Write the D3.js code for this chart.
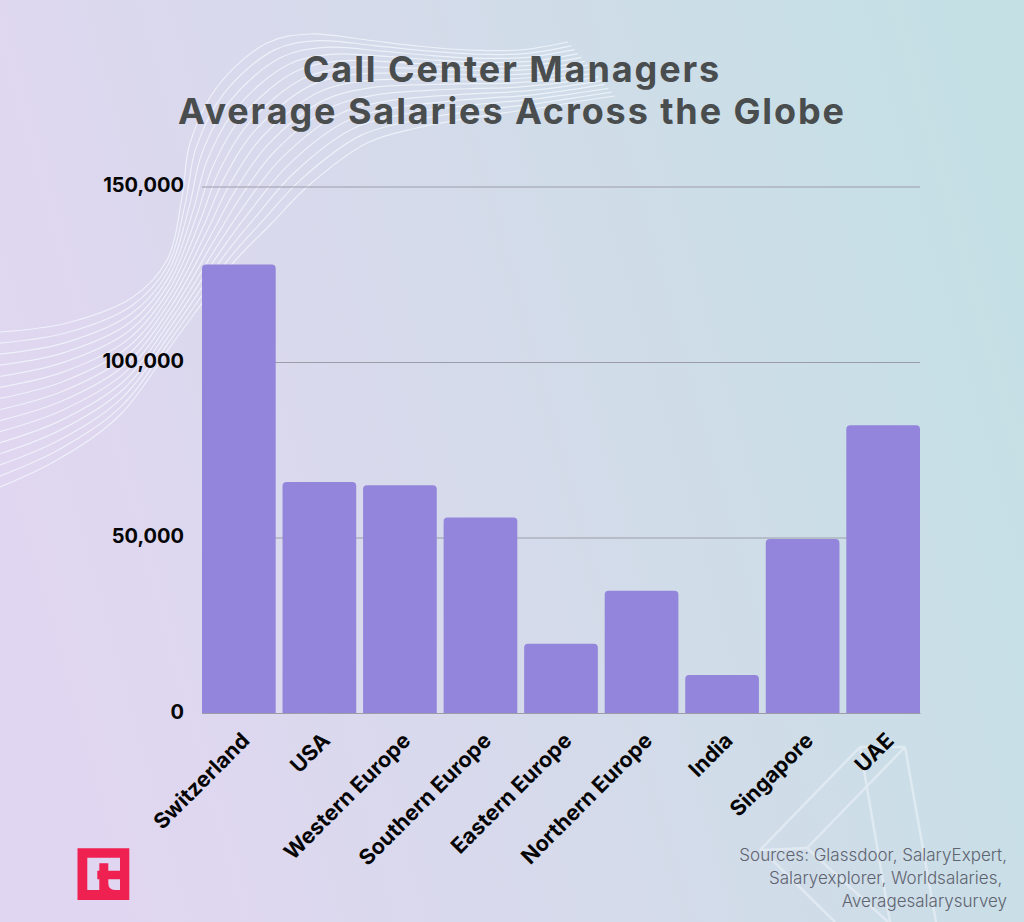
<!DOCTYPE html>
<html><head><meta charset="utf-8">
<script src="https://cdn.jsdelivr.net/npm/d3@7"></script>
<style>
html,body{margin:0;padding:0;background:#d5dcea}
svg{display:block}
text{font-family:Inter,"Open Sans",sans-serif}
</style></head><body><svg id="c" width="1024" height="922"></svg>
<script>
const categories=["Switzerland","USA","Western Europe","Southern Europe","Eastern Europe","Northern Europe","India","Singapore","UAE"];
const salaries=[127800,65800,64900,55700,19700,34800,10800,49600,82000];
const yTicks=[0,50000,100000,150000];
const titleLines=["Call Center Managers","Average Salaries Across the Globe"];
const sourceLines=["Sources: Glassdoor, SalaryExpert,","Salaryexplorer, Worldsalaries, ","Averagesalarysurvey"];
// decorative background artwork
const waveOuter=[[0,332],[67,323],[133,297],[167,260],[182,197],[190,143],[217,87],[267,43],[310,34],[367,40],[417,46],[470,50],[520,50],[568,42]];
const waveInner=[[0,487],[57,460],[120,415],[175,340],[233,263],[270,225],[307,187],[367,143],[417,128],[470,118],[510,112],[540,108],[575,102],[615,96]];
const waveCount=15;
const prismEdges=[[[860,747],[905,747]],[[860,747],[760,850]],[[905,747],[807,848]],[[760,850],[807,848]],[[860,747],[890,922]],[[905,747],[936,922]],[[807,848],[888,922]],[[772,860],[835,922]]];

const svg=d3.select("#c");
const defs=svg.append("defs");
const g=defs.append("linearGradient").attr("id","bg").attr("x1","0").attr("y1","0.55").attr("x2","1").attr("y2","0.3");
g.append("stop").attr("offset","0").attr("stop-color","#e1d6f1");
g.append("stop").attr("offset","0.5").attr("stop-color","#d4dbea");
g.append("stop").attr("offset","1").attr("stop-color","#c4e0e5");
svg.append("rect").attr("width",1024).attr("height",922).attr("fill","url(#bg)");

// waves
const line=d3.line().curve(d3.curveCatmullRom.alpha(0.5));
const wavesG=svg.append("g").attr("fill","none").attr("stroke","#f2f6fc").attr("stroke-width",1.2).attr("opacity",0.85);
d3.range(waveCount).forEach(i=>{
  const t=i/(waveCount-1);
  const pts=waveOuter.map((p,j)=>[p[0]+(waveInner[j][0]-p[0])*t,p[1]+(waveInner[j][1]-p[1])*t]);
  wavesG.append("path").attr("d",line(pts));
});
// prism
svg.append("g").attr("stroke","#e6eef5").attr("stroke-width",2.5).attr("opacity",0.75)
  .selectAll("line").data(prismEdges).join("line")
  .attr("x1",d=>d[0][0]).attr("y1",d=>d[0][1]).attr("x2",d=>d[1][0]).attr("y2",d=>d[1][1]);

// title
svg.append("g").selectAll("text").data(titleLines).join("text")
  .attr("x",512).attr("y",(d,i)=>82+i*42).attr("text-anchor","middle")
  .attr("font-size",36).attr("font-weight",700).attr("fill","#4a4d4e").attr("letter-spacing",1.9).text(d=>d);

const left=202,right=920,top0=186.5,bottom=713;
const x=d3.scaleBand().domain(categories).range([left,right]).paddingInner(0.085).paddingOuter(0);
const y=d3.scaleLinear().domain([0,150000]).range([bottom,top0]);

// y axis + grid
const ya=svg.append("g").attr("transform",`translate(${left},0)`)
  .call(d3.axisLeft(y).tickValues(yTicks).tickSize(-(right-left)).tickPadding(18).tickFormat(d3.format(",")));
ya.select(".domain").remove();
ya.selectAll(".tick line").attr("stroke","#9c9ca8").attr("stroke-width",1);
ya.selectAll(".tick text").attr("font-size",20).attr("font-weight",700).attr("fill","#050505").attr("font-family","Inter").attr("dy","0.26em");

// bars
svg.append("g").selectAll("path").data(categories).join("path")
  .attr("fill","#9285db")
  .attr("d",(c,i)=>{
    const a=x(c),b=a+x.bandwidth(),t=y(salaries[i]),r=4;
    return `M${a},${bottom}V${t+r}Q${a},${t} ${a+r},${t}H${b-r}Q${b},${t} ${b},${t+r}V${bottom}Z`;
  });

// x axis
const xa=svg.append("g").attr("transform",`translate(0,${bottom})`)
  .call(d3.axisBottom(x).tickSize(0).tickPadding(0));
xa.select(".domain").attr("stroke","#9c9ca8").attr("stroke-width",1);
xa.selectAll(".tick text")
  .attr("font-size",21.5).attr("font-weight",700).attr("fill","#050505").attr("font-family","Inter")
  .attr("text-anchor","end")
  .attr("dy",0).attr("y",0)
  .attr("transform","translate(12,29) rotate(-45)");

// sources
svg.append("g").selectAll("text").data(sourceLines).join("text")
  .attr("x",1007).attr("y",(d,i)=>861+i*23).attr("text-anchor","end").style("white-space","pre")
  .attr("font-size",17).attr("font-weight",300).attr("fill","#5f6370").text(d=>d);

// logo
svg.append("path").attr("fill","#ef2150").attr("fill-rule","evenodd")
 .attr("d","M77.5,848.3H129.3V900H77.5Z M87.3,857.7H120V870.7H108.3V863.3H99.3V870.7H97.3V879.3H99.3V890H87.3Z M108.3,879.3H120V890H115Q108.3,890 108.3,883Z");
</script></body></html>
